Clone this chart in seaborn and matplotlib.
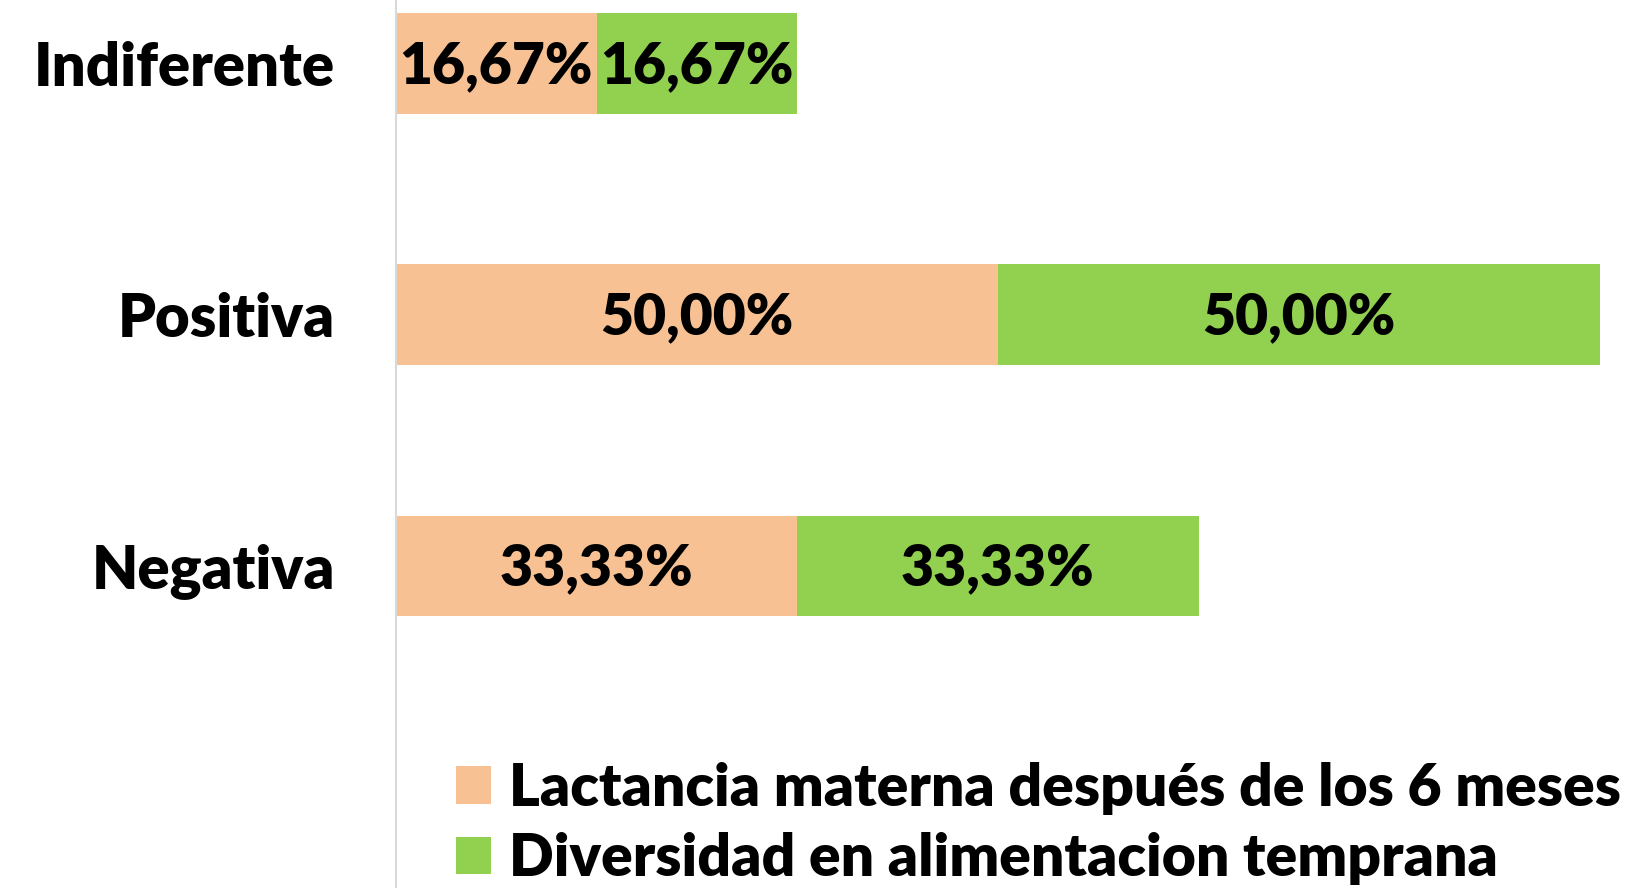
import matplotlib
matplotlib.use("Agg")
import matplotlib.pyplot as plt
import seaborn as sns
import pandas as pd
from matplotlib.patches import Patch

categories = ["Indiferente", "Positiva", "Negativa"]
lactancia = [16.67, 50.00, 33.33]
diversidad = [16.67, 50.00, 33.33]
series_names = ["Lactancia materna después de los 6 meses",
                "Diversidad en alimentacion temprana"]

PEACH = "#F8C193"
GREEN = "#92D050"

sns.set_theme(style="white")
plt.rcParams["font.family"] = ["Lato", "DejaVu Sans"]

df = pd.DataFrame({"cat": categories, "lact": lactancia, "div": diversidad})
df["total"] = df["lact"] + df["div"]

fig = plt.figure(figsize=(16.35, 8.88), dpi=100)
ax = fig.add_axes([396 / 1635, 0, (1600 - 396) / 1635, 1])

# stacked: draw the total first, then the first series on top
sns.barplot(data=df, x="total", y="cat", order=categories, color=GREEN,
            width=0.4, saturation=1, ax=ax)
sns.barplot(data=df, x="lact", y="cat", order=categories, color=PEACH,
            width=0.4, saturation=1, ax=ax)

bars = ax.patches
n = len(categories)
green_bars = bars[:n]
peach_bars = bars[n:]
for b in green_bars + peach_bars:
    b.set_edgecolor("none")

def fmt(v):
    return f"{v:.2f}".replace(".", ",") + "%"

W = "heavy"
for b, v in zip(peach_bars, lactancia):
    ax.text(b.get_x() + b.get_width() / 2, b.get_y() + b.get_height() / 2 + 0.01,
            fmt(v), ha="center", va="center", fontsize=41, fontweight=W, color="black")
for b, v, l in zip(green_bars, diversidad, lactancia):
    ax.text(l + v / 2, b.get_y() + b.get_height() / 2 + 0.01,
            fmt(v), ha="center", va="center", fontsize=41, fontweight=W, color="black")

ax.set_xlim(0, 100)
ax.set_ylim(3.283, -0.253)
ax.set_xlabel("")
ax.set_ylabel("")
ax.set_xticks([])
ax.tick_params(axis="y", length=0, pad=44)
ax.set_yticks(range(n))
ax.set_yticklabels(categories, fontsize=43, fontweight=W, color="black")
for s in ["top", "right", "bottom"]:
    ax.spines[s].set_visible(False)
ax.spines["left"].set_color("#D9D9D9")
ax.spines["left"].set_linewidth(1.5)

handles = [Patch(facecolor=PEACH, edgecolor="none"), Patch(facecolor=GREEN, edgecolor="none")]
fig.legend(handles, series_names, loc="lower left", bbox_to_anchor=(456 / 1635, 0.003),
           frameon=False, borderpad=0, borderaxespad=0,
           handlelength=0.6, handleheight=0.6,
           handletextpad=0.3, labelspacing=0.3, labelcolor="black",
           prop={"family": ["Lato", "DejaVu Sans"], "weight": W, "size": 42.3})

fig.savefig("out.png", dpi=100)
